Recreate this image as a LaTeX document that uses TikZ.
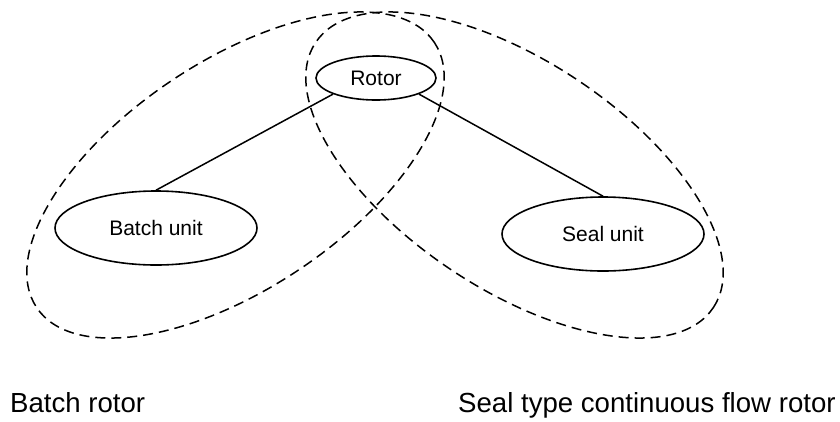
\documentclass[tikz,border=0pt]{standalone}
\usepackage{fontspec}
\setmainfont{Liberation Sans}
\usepackage{tikz}
\usetikzlibrary{shapes,positioning}

\begin{document}
\begin{tikzpicture}[x=1pt, y=-1pt,
    unit/.style={ellipse, draw, line width=1.6pt, inner sep=0pt, font=\fontsize{21}{25}\selectfont},
    group/.style={ellipse, draw, line width=1.5pt, dash pattern=on 10pt off 6pt, inner sep=0pt, minimum width=478pt, minimum height=228pt},
    line/.style={draw, line width=1.5pt},
    caption/.style={anchor=base west, inner sep=0pt, font=\fontsize{27.6}{33}\selectfont}]

    \useasboundingbox (0,0) rectangle (840,421);

    \node [group, rotate=33.7] (batchgroup) at (235.5,175) {};
    \node [group, rotate=-33.7] (sealgroup) at (514.5,175) {};

    \node [unit, minimum width=120pt, minimum height=44pt] (rotor) at (376,78) {Rotor};
    \node [unit, minimum width=202pt, minimum height=74pt] (batch) at (156,228) {Batch unit};
    \node [unit, minimum width=202pt, minimum height=74pt] (seal) at (603,234) {Seal unit};

    \node [caption] (batchlabel) at (10,412) {Batch rotor};
    \node [caption] (seallabel) at (458,412) {Seal type continuous flow rotor};

    \path [line] (batch.north) -- (rotor.south west);
    \path [line] (seal.north) -- (rotor.south east);
\end{tikzpicture}
\end{document}
